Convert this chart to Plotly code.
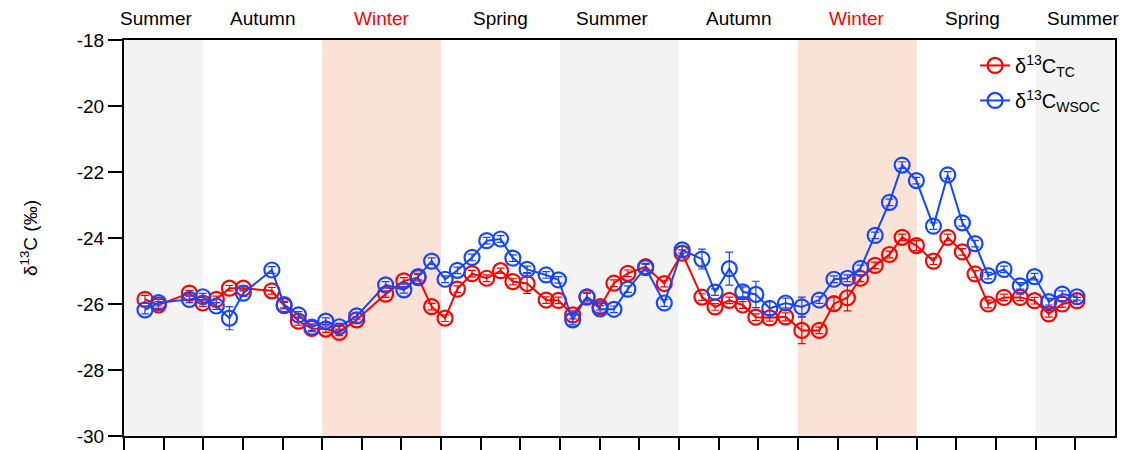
import plotly.graph_objects as go

# x positions in months from start (0 = start of first summer)
months = [0.53, 0.87, 1.65, 1.99, 2.33, 2.66, 3.01, 3.73, 4.04, 4.40, 4.74, 5.09, 5.43, 5.87,
          6.60, 7.06, 7.42, 7.76, 8.10, 8.41, 8.78, 9.15, 9.50, 9.81, 10.17, 10.65, 10.96,
          11.32, 11.68, 12.01, 12.36, 12.71, 13.16, 13.63, 14.08, 14.58, 14.91, 15.27, 15.61,
          15.94, 16.29, 16.69, 17.10, 17.54, 17.91, 18.25, 18.58, 18.95, 19.31, 19.63, 19.99,
          20.42, 20.78, 21.15, 21.47, 21.80, 22.20, 22.61, 22.97, 23.33, 23.67, 24.04]

d13c_tc = [-25.86, -26.03, -25.67, -25.97, -25.86, -25.52, -25.52, -25.60, -26.05, -26.52,
           -26.74, -26.76, -26.86, -26.48, -25.70, -25.30, -25.20, -26.08, -26.43, -25.55,
           -25.08, -25.22, -24.99, -25.32, -25.38, -25.88, -25.89, -26.33, -25.79, -26.08,
           -25.37, -25.07, -24.87, -25.38, -24.46, -25.79, -26.09, -25.89, -26.03, -26.40,
           -26.42, -26.39, -26.80, -26.80, -25.99, -25.81, -25.22, -24.83, -24.50, -23.98,
           -24.23, -24.70, -23.98, -24.42, -25.09, -26.00, -25.80, -25.80, -25.90, -26.30,
           -26.00, -25.90]
d13c_tc_err = [0.12, 0.1, 0.08, 0.1, 0.1, 0.08, 0.08, 0.1, 0.1, 0.12,
               0.1, 0.1, 0.1, 0.1, 0.1, 0.1, 0.1, 0.1, 0.1, 0.1,
               0.1, 0.1, 0.08, 0.1, 0.3, 0.1, 0.1, 0.12, 0.15, 0.1,
               0.1, 0.1, 0.1, 0.1, 0.1, 0.1, 0.1, 0.1, 0.1, 0.1,
               0.1, 0.12, 0.4, 0.1, 0.2, 0.4, 0.1, 0.1, 0.1, 0.1,
               0.15, 0.1, 0.1, 0.1, 0.1, 0.12, 0.1, 0.1, 0.1, 0.1,
               0.1, 0.1]

d13c_wsoc = [-26.18, -25.96, -25.86, -25.78, -26.06, -26.43, -25.67, -24.97, -26.02, -26.33,
             -26.70, -26.52, -26.69, -26.36, -25.42, -25.57, -25.17, -24.70, -25.25, -24.98,
             -24.59, -24.08, -24.03, -24.61, -24.95, -25.12, -25.27, -26.48, -25.78, -26.15,
             -26.16, -25.55, -24.90, -25.97, -24.36, -24.64, -25.64, -24.93, -25.63, -25.71,
             -26.13, -25.97, -26.09, -25.88, -25.25, -25.22, -24.92, -23.92, -22.92, -21.79,
             -22.26, -23.64, -22.09, -23.54, -24.17, -25.14, -24.95, -25.45, -25.17, -25.93,
             -25.70, -25.78]
d13c_wsoc_err = [0.12, 0.1, 0.1, 0.1, 0.1, 0.35, 0.1, 0.1, 0.1, 0.1,
                 0.1, 0.1, 0.1, 0.1, 0.1, 0.1, 0.1, 0.1, 0.1, 0.1,
                 0.1, 0.1, 0.1, 0.1, 0.1, 0.1, 0.1, 0.15, 0.1, 0.1,
                 0.1, 0.1, 0.1, 0.1, 0.1, 0.3, 0.1, 0.5, 0.15, 0.4,
                 0.2, 0.15, 0.3, 0.1, 0.1, 0.1, 0.1, 0.1, 0.1, 0.1,
                 0.1, 0.1, 0.1, 0.1, 0.1, 0.1, 0.1, 0.1, 0.1, 0.1,
                 0.1, 0.1]

y_tick_vals = [-30, -28, -26, -24, -22, -20, -18]
y_tick_text = ["-30", "-28", "-26", "-24", "-22", "-20", "-18"]

season_names = ["Summer", "Autumn", "Winter", "Spring", "Summer", "Autumn", "Winter", "Spring", "Summer"]
season_label_x = [0.8, 3.5, 6.5, 9.5, 12.3, 15.5, 18.5, 21.4, 24.2]
season_bounds = [0, 2, 5, 8, 11, 14, 17, 20, 23, 25]

RED = "#FF0000"
BLUE = "#1446FF"
season_fill = {"Summer": "#F4F4F4", "Winter": "#FAE3D6"}
season_text_color = {"Winter": "#FF0000"}

fig = go.Figure()

shapes = []
for i, name in enumerate(season_names):
    if name in season_fill:
        shapes.append(dict(type="rect", xref="x", yref="paper",
                           x0=season_bounds[i], x1=season_bounds[i + 1], y0=0, y1=1,
                           fillcolor=season_fill[name], line=dict(width=0), layer="below"))

fig.add_trace(go.Scatter(
    x=months, y=d13c_tc, mode="lines+markers",
    name="δ<sup>13</sup>C<sub>TC</sub>", legendgroup="tc",
    line=dict(color=RED, width=2),
    marker=dict(symbol="circle-open", size=15, color=RED, line=dict(width=2.2, color=RED)),
    error_y=dict(type="data", array=d13c_tc_err, visible=True, color=RED, thickness=1.2, width=4),
))
fig.add_trace(go.Scatter(
    x=months, y=d13c_wsoc, mode="lines+markers",
    name="δ<sup>13</sup>C<sub>WSOC</sub>", legendgroup="wsoc",
    line=dict(color=BLUE, width=2),
    marker=dict(symbol="circle-open", size=15, color=BLUE, line=dict(width=2.2, color=BLUE)),
    error_y=dict(type="data", array=d13c_wsoc_err, visible=True, color=BLUE, thickness=1.2, width=4),
))

annotations = []
for name, xv in zip(season_names, season_label_x):
    annotations.append(dict(x=xv, y=1, xref="x", yref="paper", yanchor="bottom",
                            yshift=9, text=name, showarrow=False,
                            font=dict(size=19, color=season_text_color.get(name, "black"))))

fig.update_layout(
    width=1122, height=442,
    margin=dict(l=116, r=15, t=32, b=14),
    plot_bgcolor="white", paper_bgcolor="white",
    font=dict(family="Liberation Sans, Arial, sans-serif", size=19, color="black"),
    shapes=shapes, annotations=annotations,
    showlegend=True,
    legend=dict(x=0.99, y=0.985, xanchor="right", yanchor="top",
                bgcolor="rgba(0,0,0,0)", font=dict(size=20), tracegroupgap=6),
    xaxis=dict(range=[0, 25], tickvals=list(range(0, 25)), showticklabels=False,
               ticks="outside", ticklen=12, tickwidth=2, tickcolor="black",
               showline=True, linewidth=2, linecolor="black", mirror=True,
               showgrid=False, zeroline=False, automargin=False),
    yaxis=dict(range=[-30, -18], tickvals=y_tick_vals, ticktext=y_tick_text,
               ticks="outside", ticklen=14, tickwidth=2, tickcolor="black",
               showline=True, linewidth=2, linecolor="black", mirror=True,
               showgrid=False, zeroline=False, automargin=False,
               title=dict(text="δ<sup>13</sup>C (‰)", standoff=34, font=dict(size=19)),
               tickfont=dict(size=19)),
)

fig.write_html("out.html")
